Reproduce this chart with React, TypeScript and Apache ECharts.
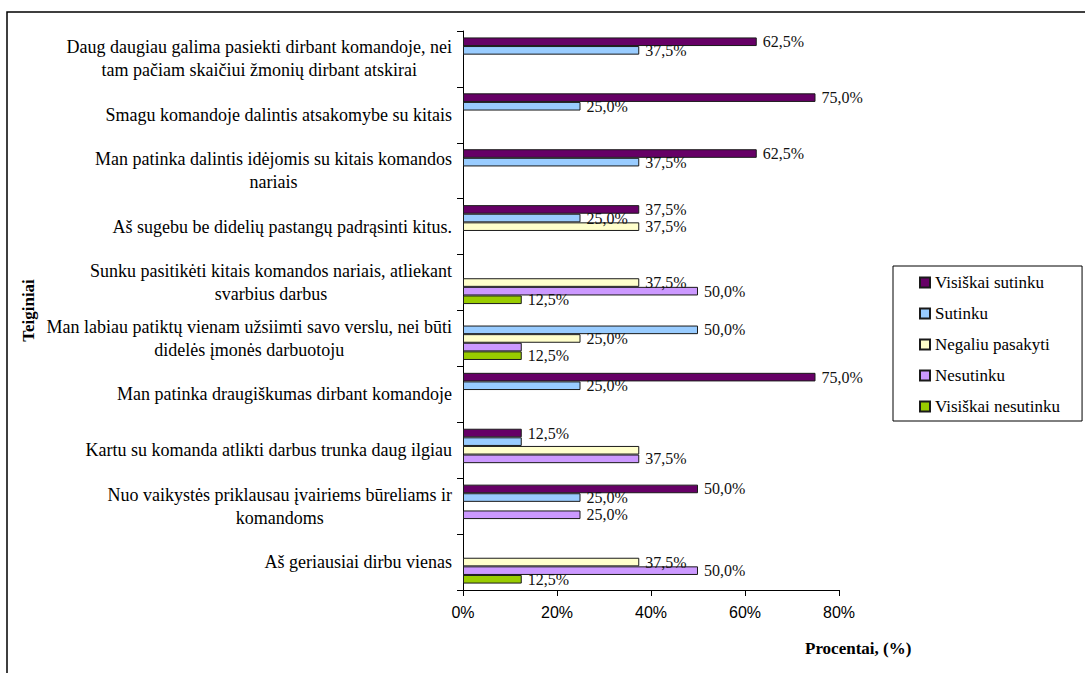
import React, { useEffect, useRef } from "react";
import * as echarts from "echarts";

const categories = [
  "Daug daugiau galima pasiekti dirbant komandoje, nei\ntam pačiam skaičiui žmonių dirbant atskirai",
  "Smagu komandoje dalintis atsakomybe su kitais",
  "Man patinka dalintis idėjomis su kitais komandos\nnariais",
  "Aš sugebu be didelių pastangų padrąsinti kitus.",
  "Sunku pasitikėti kitais komandos nariais, atliekant\nsvarbius darbus",
  "Man labiau patiktų vienam užsiimti savo verslu, nei būti\ndidelės įmonės darbuotoju",
  "Man patinka draugiškumas dirbant komandoje",
  "Kartu su komanda atlikti darbus trunka daug ilgiau",
  "Nuo vaikystės priklausau įvairiems būreliams ir\nkomandoms",
  "Aš geriausiai dirbu vienas",
];

const seriesNames = ["Visiškai sutinku", "Sutinku", "Negaliu pasakyti", "Nesutinku", "Visiškai nesutinku"];

const visiskaiSutinku = [62.5, 75, 62.5, 37.5, null, null, 75, 12.5, 50, null];
const sutinku = [37.5, 25, 37.5, 25, null, 50, 25, 12.5, 25, null];
const negaliuPasakyti = [null, null, null, 37.5, 37.5, 25, null, 37.5, null, 37.5];
const nesutinku = [null, null, null, null, 50, 12.5, null, 37.5, 25, 50];
const visiskaiNesutinku = [null, null, null, null, 12.5, 12.5, null, null, null, 12.5];

const xTicks = [0, 20, 40, 60, 80];

// labels that the original chart does not show (series index, category index)
const hiddenLabels = [
  [3, 5],
  [1, 7],
  [2, 7],
];

const colors = ["#660066", "#99CCFF", "#FFFFCC", "#CC99FF", "#99CC00"];

const SERIF = "'Liberation Serif', 'Times New Roman', serif";
const SANS = "'Liberation Sans', Arial, sans-serif";

export default function App() {
  const ref = useRef<HTMLDivElement>(null);

  useEffect(() => {
    document.body.style.margin = "0";
    document.body.style.overflow = "hidden";
    if (!ref.current) return;
    const chart = echarts.init(ref.current, undefined, { renderer: "svg" });
    const allData = [visiskaiSutinku, sutinku, negaliuPasakyti, nesutinku, visiskaiNesutinku];
    const fmt = (v: number) => v.toFixed(1).replace(".", ",") + "%";

    const series = allData.map((arr, si) => ({
      name: seriesNames[si],
      type: "bar",
      barGap: "0%",
      barCategoryGap: "23%",
      itemStyle: { color: colors[si], borderColor: "#1a1a1a", borderWidth: 1 },
      label: {
        show: true,
        position: "right",
        distance: 6,
        fontFamily: SERIF,
        fontSize: 16,
        color: "#111",
        formatter: (p: any) => fmt(p.value),
      },
      data: arr.map((v, ci) => {
        const hide = hiddenLabels.some(([s, c]) => s === si && c === ci);
        return hide ? { value: v, label: { show: false } } : v;
      }),
    }));

    chart.setOption({
      animation: false,
      backgroundColor: "#ffffff",
      grid: { left: 463, right: 246, top: 31, bottom: 83, containLabel: false },
      legend: {
        orient: "vertical",
        left: 893,
        top: 266,
        itemWidth: 10,
        itemHeight: 10,
        itemGap: 14,
        icon: "rect",
        padding: [8, 22, 6, 26],
        borderColor: "#000",
        borderWidth: 1,
        textStyle: { fontFamily: SERIF, fontSize: 17, color: "#000" },
        data: seriesNames,
      },
      xAxis: {
        type: "value",
        min: xTicks[0],
        max: xTicks[xTicks.length - 1],
        interval: 20,
        splitLine: { show: false },
        axisLine: { show: true, lineStyle: { color: "#000", width: 1 } },
        axisTick: { show: true, length: 6, lineStyle: { color: "#000" } },
        axisLabel: {
          formatter: "{value}%",
          fontFamily: SANS,
          fontSize: 16,
          color: "#000",
          margin: 14,
        },
      },
      yAxis: {
        type: "category",
        inverse: true,
        data: categories,
        name: "Teiginiai",
        nameLocation: "middle",
        nameRotate: 90,
        nameGap: 426,
        nameTextStyle: { fontFamily: SERIF, fontSize: 17, fontWeight: "bold", color: "#000" },
        axisLine: { show: true, lineStyle: { color: "#000", width: 1 } },
        axisTick: { show: true, length: 6, interval: 0, alignWithLabel: false, lineStyle: { color: "#000" } },
        axisLabel: {
          interval: 0,
          margin: 11,
          color: "#000",
          fontFamily: SERIF,
          fontSize: 18,
          lineHeight: 23,
          formatter: (v: string) =>
            v
              .split("\n")
              .map((l) => `{c|${l}}`)
              .join("\n"),
          rich: {
            c: { align: "center", fontFamily: SERIF, fontSize: 18, lineHeight: 23, color: "#000" },
          },
        },
      },
      graphic: [
        {
          type: "rect",
          shape: { x: 7, y: 12, width: 1100, height: 700 },
          style: { fill: "none", stroke: "#000", lineWidth: 1.5 },
          silent: true,
        },
        {
          type: "text",
          left: 805,
          top: 640,
          style: {
            text: "Procentai, (%)",
            fontFamily: SERIF,
            fontSize: 17,
            fontWeight: "bold",
            fill: "#000",
          },
        },
      ],
      series,
    });
    return () => chart.dispose();
  }, []);

  return <div ref={ref} style={{ width: 1085, height: 673 }} />;
}
